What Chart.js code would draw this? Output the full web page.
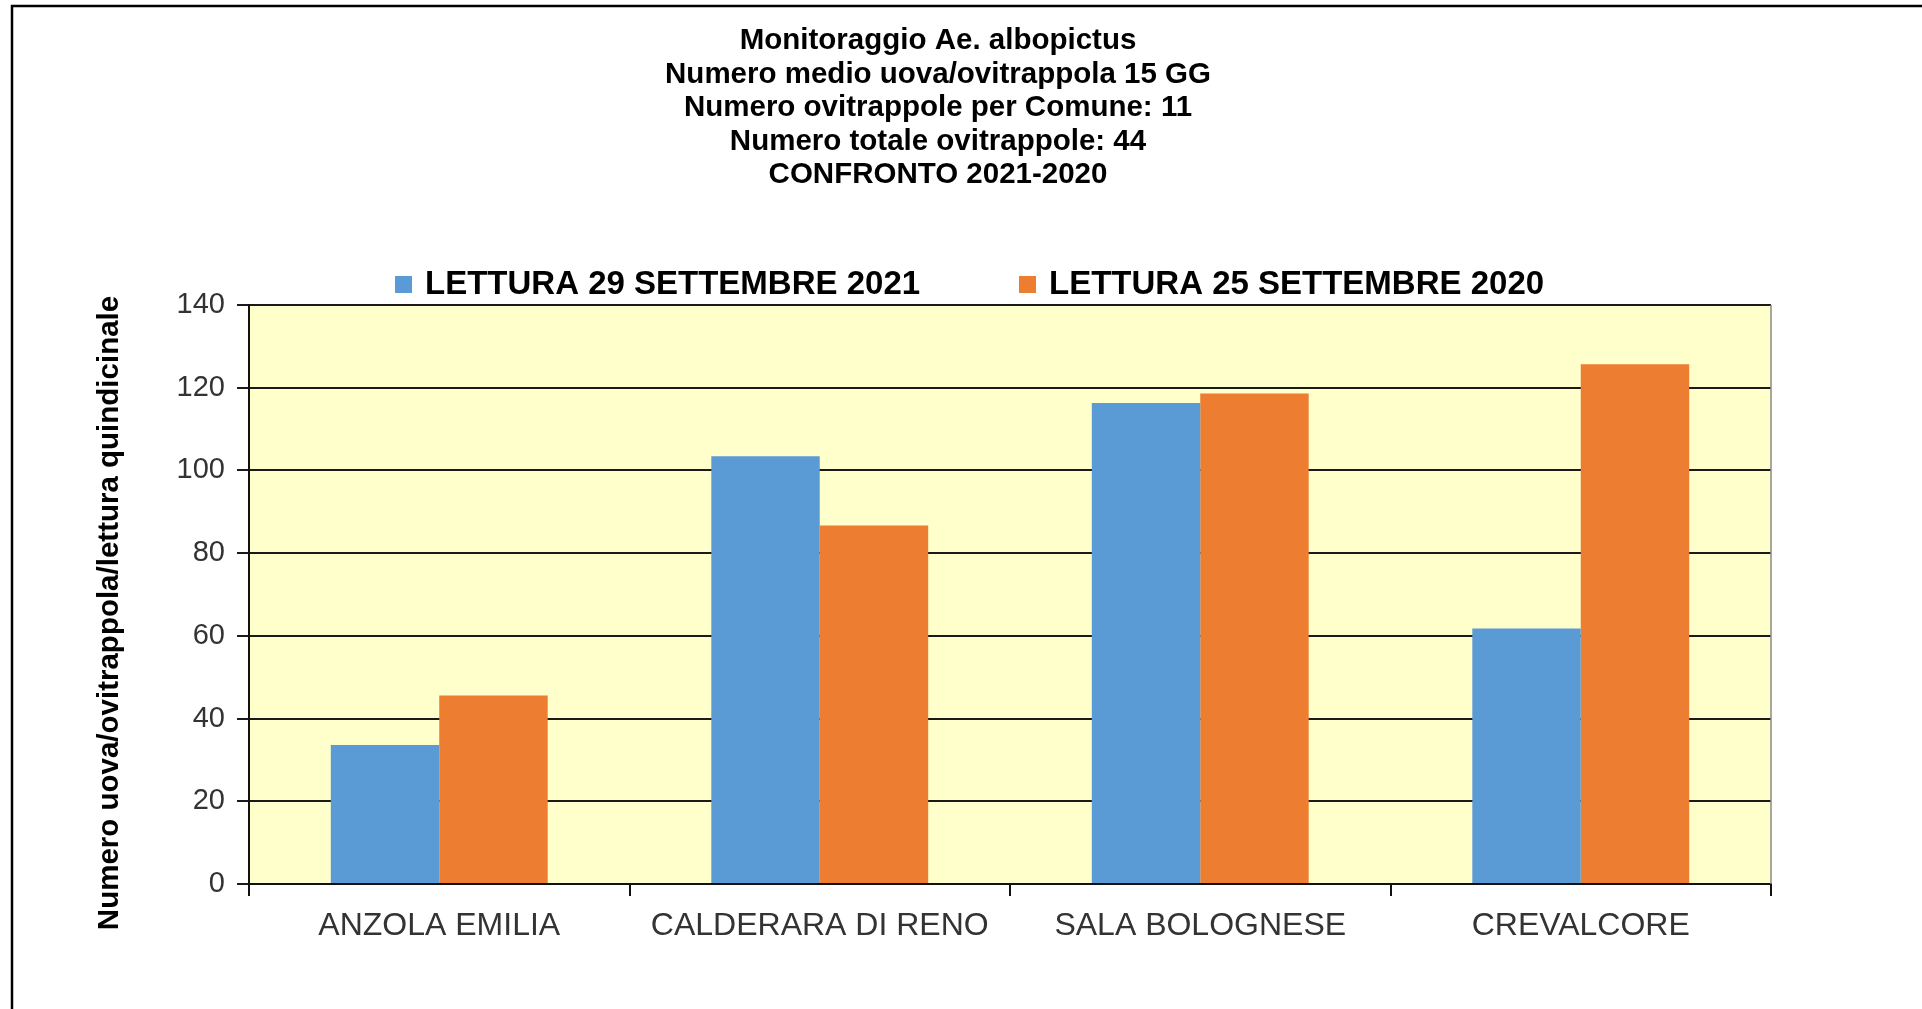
<!DOCTYPE html>
<html>
<head>
<meta charset="utf-8">
<script src="https://cdn.jsdelivr.net/npm/chart.js@4.4.1/dist/chart.umd.min.js"></script>
<style>
  html, body { margin: 0; padding: 0; background: #fff; }
  #wrap { width: 1922px; height: 1009px; position: relative; }
</style>
</head>
<body>
<div id="wrap"><canvas id="chart" width="1922" height="1009"></canvas></div>
<script>
// categories
var comuni = ["ANZOLA EMILIA", "CALDERARA DI RENO", "SALA BOLOGNESE", "CREVALCORE"];

// series
var lettura2021 = [33.6, 103.4, 116.3, 61.8];
var lettura2020 = [45.6, 86.7, 118.6, 125.7];

var seriesNames = ["LETTURA 29 SETTEMBRE 2021", "LETTURA 25 SETTEMBRE 2020"];

// title lines
var titleLines = [
  "Monitoraggio Ae. albopictus",
  "Numero medio uova/ovitrappola 15 GG",
  "Numero ovitrappole per Comune: 11",
  "Numero totale ovitrappole: 44",
  "CONFRONTO 2021-2020",
];

var yTitle = "Numero uova/ovitrappola/lettura quindicinale";

var blue = "#5b9bd5";
var orange = "#ed7d31";

// frame, plot background, titles and legend
var decorPlugin = {
  id: "decor",
  beforeDraw: function (chart) {
    var ctx = chart.ctx;
    var a = chart.chartArea;
    ctx.save();
    ctx.fillStyle = "#ffffcc";
    ctx.fillRect(a.left, a.top, a.right - a.left, a.bottom - a.top);

    // outer frame (left + top only)
    ctx.strokeStyle = "#000";
    ctx.lineWidth = 2.5;
    ctx.beginPath();
    ctx.moveTo(12, 1009);
    ctx.lineTo(12, 6);
    ctx.lineTo(1922, 6);
    ctx.stroke();
    ctx.restore();
  },
  afterDraw: function (chart) {
    var ctx = chart.ctx;
    var a = chart.chartArea;
    ctx.save();

    // right border of plot
    ctx.strokeStyle = "#8a8a8a";
    ctx.lineWidth = 1.5;
    ctx.beginPath();
    ctx.moveTo(a.right, a.top);
    ctx.lineTo(a.right, a.bottom);
    ctx.stroke();

    // title
    ctx.fillStyle = "#000";
    ctx.font = "bold 29.5px 'Liberation Sans', Arial, sans-serif";
    ctx.textAlign = "center";
    ctx.textBaseline = "middle";
    for (var i = 0; i < titleLines.length; i++) {
      ctx.fillText(titleLines[i], 938, 41 + i * 33.5);
    }

    // y axis title
    ctx.save();
    ctx.translate(110, 613);
    ctx.rotate(-Math.PI / 2);
    ctx.font = "bold 29.5px 'Liberation Sans', Arial, sans-serif";
    ctx.fillText(yTitle, 0, 0);
    ctx.restore();

    // legend
    var legendX = [395, 1019];
    ctx.font = "bold 33px 'Liberation Sans', Arial, sans-serif";
    ctx.textAlign = "left";
    var ds = chart.data.datasets;
    for (var j = 0; j < ds.length; j++) {
      ctx.fillStyle = ds[j].backgroundColor;
      ctx.fillRect(legendX[j], 276, 17, 17);
      ctx.fillStyle = "#000";
      ctx.fillText(ds[j].label, legendX[j] + 30, 285);
    }
    ctx.restore();
  },
};

var ctx = document.getElementById("chart").getContext("2d");
new Chart(ctx, {
  type: "bar",
  data: {
    labels: comuni,
    datasets: [
      {
        label: seriesNames[0],
        data: lettura2021,
        backgroundColor: blue,
        categoryPercentage: 0.57,
        barPercentage: 1.0,
      },
      {
        label: seriesNames[1],
        data: lettura2020,
        backgroundColor: orange,
        categoryPercentage: 0.57,
        barPercentage: 1.0,
      },
    ],
  },
  options: {
    responsive: false,
    maintainAspectRatio: false,
    animation: false,
    layout: { padding: { left: 12, top: 305, right: 151, bottom: 0 } },
    plugins: {
      legend: { display: false },
      title: { display: false },
      tooltip: { enabled: false },
    },
    scales: {
      x: {
        offset: true,
        grid: {
          offset: true,
          drawOnChartArea: false,
          drawTicks: true,
          tickLength: 12,
          color: "#111",
          lineWidth: 2,
        },
        border: { color: "#111", width: 2 },
        ticks: {
          color: "#333",
          padding: 11,
          maxRotation: 0,
          font: { family: "'Liberation Sans', Arial, sans-serif", size: 32 },
        },
        afterFit: function (scale) {
          scale.height = 125;
        },
      },
      y: {
        min: 0,
        max: 140,
        ticks: {
          stepSize: 20,
          color: "#333",
          padding: 12,
          font: { family: "'Liberation Sans', Arial, sans-serif", size: 29 },
        },
        grid: { color: "#1a1a1a", lineWidth: 2, tickLength: 12 },
        border: { color: "#111", width: 2 },
        afterFit: function (scale) {
          scale.width = 237;
        },
      },
    },
  },
  plugins: [decorPlugin],
});
</script>
</body>
</html>
